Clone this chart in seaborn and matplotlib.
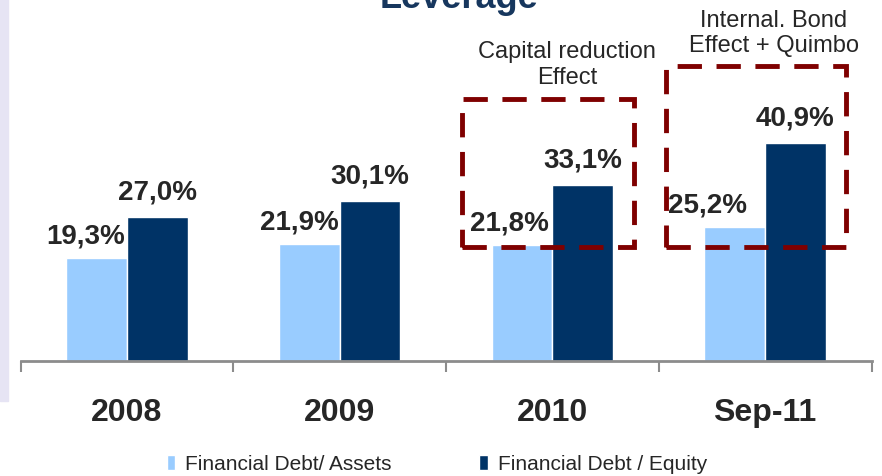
import pandas as pd
import matplotlib.pyplot as plt
import matplotlib.patches as mpatches
import seaborn as sns

sns.set_style("white")
plt.rcParams['font.family'] = ['Liberation Sans', 'DejaVu Sans']

periods = ['2008', '2009', '2010', 'Sep-11']
debt_assets = [19.3, 21.9, 21.8, 25.2]
debt_equity = [27.0, 30.1, 33.1, 40.9]
series_names = ['Financial Debt/ Assets', 'Financial Debt / Equity']
notes = ['Capital reduction\nEffect', 'Internal. Bond\nEffect + Quimbo']

light = '#99CCFF'
dark = '#003366'
red = '#7F0000'

df = pd.DataFrame({
    'period': periods * 2,
    'value': debt_assets + debt_equity,
    'series': [series_names[0]] * 4 + [series_names[1]] * 4,
})

fig = plt.figure(figsize=(8.82, 4.77), dpi=100)
# left lavender strip
fig.patches.append(mpatches.Rectangle((0, (477 - 402) / 477), 8 / 882, 402 / 477,
                                      transform=fig.transFigure, color='#E6E4F4', zorder=0))

ax = fig.add_axes([20.5 / 882, (477 - 362) / 477, 851 / 882, 362 / 477])
sns.barplot(data=df, x='period', y='value', hue='series', palette=[light, dark],
            width=0.57, saturation=1, ax=ax, legend=True)
ax.set_xlim(-0.5, 3.5)
ax.set_ylim(0, 68)
ax.set_xlabel('')
ax.set_ylabel('')
ax.set_yticks([])
for s in ['top', 'left', 'right']:
    ax.spines[s].set_visible(False)
ax.spines['bottom'].set_color('#8C8C8C')
ax.spines['bottom'].set_linewidth(2)
ax.set_xticks([-0.5, 0.5, 1.5, 2.5, 3.5], minor=True)
ax.tick_params(axis='x', which='minor', bottom=True, length=8, width=1.5,
               color='#8C8C8C', direction='out')
ax.tick_params(axis='x', which='major', bottom=True, length=0, pad=26)
for t in ax.get_xticklabels():
    t.set_fontsize(23)
    t.set_fontweight('bold')

# value labels
light_dx = [-8, -7, -9, -20]
for i, bar in enumerate(ax.containers[0]):
    ax.annotate(f'{debt_assets[i]:.1f}%'.replace('.', ','),
                (bar.get_x() + bar.get_width() / 2, bar.get_height()),
                xytext=(light_dx[i], 7), textcoords='offset points',
                ha='center', va='bottom', fontsize=20, fontweight='bold')
for i, bar in enumerate(ax.containers[1]):
    ax.annotate(f'{debt_equity[i]:.1f}%'.replace('.', ','),
                (bar.get_x() + bar.get_width() / 2, bar.get_height()),
                xytext=(0, 9), textcoords='offset points',
                ha='center', va='bottom', fontsize=20, fontweight='bold')

# dashed boxes
for (x0, x1, y1) in [(1.573, 2.385, 49.2), (2.535, 3.38, 55.5)]:
    ax.add_patch(mpatches.Rectangle((x0, 21.4), x1 - x0, y1 - 21.4, fill=False,
                                    edgecolor=red, linewidth=3.5, linestyle=(0, (5, 3)),
                                    clip_on=False, zorder=5))
ax.text(2.07, 51.3, notes[0], ha='center', va='bottom', fontsize=17, linespacing=1.22)
ax.text(3.04, 57.2, notes[1], ha='center', va='bottom', fontsize=17, linespacing=1.22)

fig.text(459 / 882, (477 - 8) / 477, 'Leverage', ha='center', va='baseline',
         fontsize=26, fontweight='bold', color='#17375E')

handles, labels = ax.get_legend_handles_labels()
ax.get_legend().remove()
fig.legend(handles, labels, loc='center', bbox_to_anchor=(437 / 882, (477 - 465) / 477),
           ncol=2, frameon=False, fontsize=15, handlelength=0.4, handleheight=0.75,
           handletextpad=0.5, columnspacing=4.2)

fig.savefig('out.png', dpi=100)
